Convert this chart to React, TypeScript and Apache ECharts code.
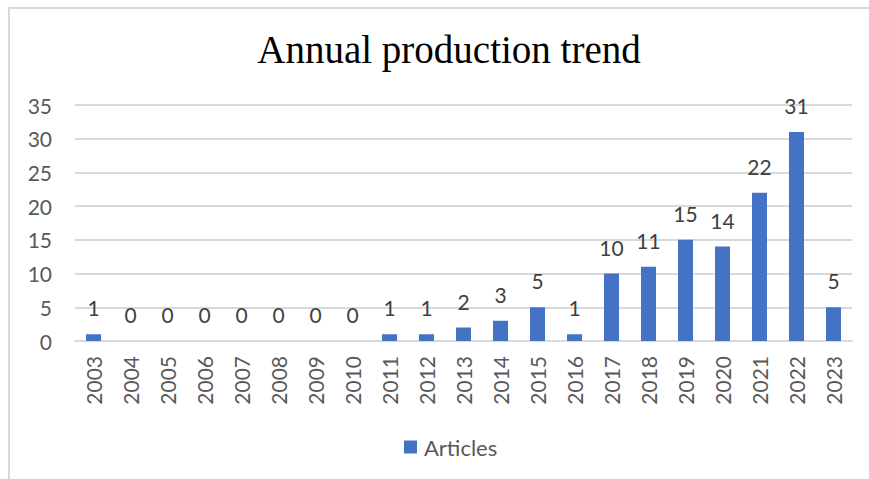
import React, { useEffect, useRef } from "react";
import * as echarts from "echarts";

const years = ["2003","2004","2005","2006","2007","2008","2009","2010","2011","2012","2013","2014","2015","2016","2017","2018","2019","2020","2021","2022","2023"];
const articles = [1,0,0,0,0,0,0,0,1,1,2,3,5,1,10,11,15,14,22,31,5];
const yTicks = { min: 0, max: 35, interval: 5 };

export default function App() {
  const ref = useRef<HTMLDivElement>(null);
  useEffect(() => {
    document.body.style.margin = "0";
    const chart = echarts.init(ref.current!, null, { renderer: "svg" });
    chart.setOption({
      animation: false,
      backgroundColor: "#ffffff",
      title: {
        text: "Annual production trend",
        left: 444,
        top: 25,
        textAlign: "center",
        textStyle: { fontFamily: "Liberation Serif", fontSize: 39, fontWeight: "normal", color: "#000000" },
      },
      legend: {
        data: ["Articles"],
        left: 399,
        top: 431,
        itemWidth: 13,
        itemHeight: 13,
        itemGap: 8,
        icon: "rect",
        textStyle: { fontFamily: "Lato", fontSize: 22, color: "#595959", padding: [0, 0, 0, 2] },
      },
      grid: { left: 75, right: 17, top: 105, bottom: 138, containLabel: false },
      xAxis: {
        type: "category",
        data: years,
        axisLine: { show: true, lineStyle: { color: "#d9d9d9", width: 2 } },
        axisTick: { show: false },
        axisLabel: { rotate: 90, margin: 15, fontFamily: "Lato", fontSize: 21, color: "#595959", interval: 0 },
      },
      yAxis: {
        type: "value",
        min: yTicks.min,
        max: yTicks.max,
        interval: yTicks.interval,
        axisLine: { show: false },
        axisTick: { show: false },
        splitLine: { lineStyle: { color: "#d9d9d9", width: 2 } },
        axisLabel: { margin: 23, fontFamily: "Lato", fontSize: 21, color: "#595959" },
      },
      series: [
        {
          name: "Articles",
          type: "bar",
          data: articles,
          barWidth: 15,
          itemStyle: { color: "#4472c4" },
          label: {
            show: true,
            position: "top",
            distance: 16,
            fontFamily: "Lato",
            fontSize: 21,
            color: "#404040",
          },
        },
      ],
      graphic: [
        {
          type: "polyline",
          shape: { points: [[9, 479], [9, 8], [869, 8]] },
          style: { stroke: "#d9d9d9", lineWidth: 2, fill: "none" },
          silent: true,
        },
      ],
    });
    return () => chart.dispose();
  }, []);
  return <div ref={ref} style={{ width: 869, height: 479 }} />;
}
